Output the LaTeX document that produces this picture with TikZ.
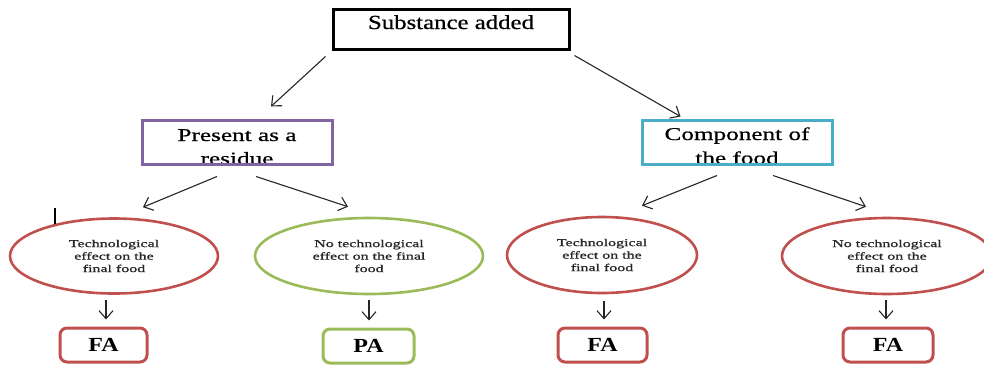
\documentclass[tikz,border=0pt]{standalone}
\usepackage{fontspec}
\setmainfont{Liberation Serif}
\newfontfamily\ftopfont[FakeStretch=1.24,FakeBold=0.7]{Liberation Serif}
\newfontfamily\fmidfont[FakeStretch=1.4,FakeBold=0.7]{Liberation Serif}
\newfontfamily\fellfont[FakeStretch=1.52,FakeBold=1.1]{Liberation Serif}
\newfontfamily\flabfont[FakeStretch=1.2]{Liberation Serif}
\usetikzlibrary{shapes.geometric,arrows.meta}
\definecolor{cred}{HTML}{C0504D}
\definecolor{cgreen}{HTML}{9BBB59}
\definecolor{cpurple}{HTML}{8064A2}
\definecolor{cblue}{HTML}{4BACC6}
\tikzset{
  topbox/.style={draw=black,line width=3pt,minimum width=236pt,minimum height=40pt,inner sep=0pt},
  midbox/.style={line width=3pt,minimum width=190pt,minimum height=44pt,inner sep=0pt},
  ellbox/.style={ellipse,line width=2.6pt,inner sep=0pt,align=center,
    font=\fellfont\fontsize{10.5}{12.5}\selectfont,text=black!85},
  resbox/.style={rounded corners=7pt,line width=3pt,minimum height=34pt,inner sep=0pt,
    font=\flabfont\bfseries\fontsize{20}{22}\selectfont},
  arr/.style={-{Straight Barb[length=8pt,width=14pt]},line width=1.1pt,black!85},
  bigtext/.style={anchor=base,inner sep=0pt,font=\fmidfont\fontsize{18}{22}\selectfont}
}
\begin{document}
\begin{tikzpicture}[x=1pt,y=-1pt]
\useasboundingbox (0,0) rectangle (984,364);
% top
\node[topbox] (top) at (451,29) {};
\node[anchor=base,inner sep=0pt,font=\ftopfont\fontsize{20}{24}\selectfont] (toptxt) at (451,29) {Substance added};
% middle boxes
\node[midbox,draw=cpurple] (pres) at (237,142) {};
\node[midbox,draw=cblue] (comp) at (737,142) {};
\begin{scope}
  \clip (143.5,121.5) rectangle (330.5,162.5);
  \node[bigtext] (pres1) at (237,141) {Present as a};
  \node[bigtext] (pres2) at (237,164.5) {residue};
\end{scope}
\begin{scope}
  \clip (643.5,121.5) rectangle (830.5,162.5);
  \node[bigtext] (comp1) at (737,140) {Component of};
  \node[bigtext] (comp2) at (737,164) {the food};
\end{scope}
% ellipses
\node[ellbox,draw=cred,minimum width=208pt,minimum height=75pt] (e1) at (114,256) {Technological\\effect on the\\final food};
\node[ellbox,draw=cgreen,minimum width=228pt,minimum height=76pt] (e2) at (369,256) {No technological\\effect on the final\\food};
\node[ellbox,draw=cred,minimum width=190pt,minimum height=76pt] (e3) at (602,255) {Technological\\effect on the\\final food};
\node[ellbox,draw=cred,minimum width=210pt,minimum height=76pt] (e4) at (887,256) {No technological\\effect on the\\final food};
% result boxes
\node[resbox,draw=cred,minimum width=87pt] (r1) at (103.5,345) {FA};
\node[resbox,draw=cgreen,minimum width=91pt] (r2) at (368.5,346) {PA};
\node[resbox,draw=cred,minimum width=89pt] (r3) at (602.5,345) {FA};
\node[resbox,draw=cred,minimum width=90pt] (r4) at (888,345) {FA};
% arrows
\draw[arr] ([shift={(-6,6)}]top.south west) -- ([shift={(34,-12)}]pres.north);
\draw[arr] ([shift={(4,5)}]top.south east) -- ([shift={(40,-2)}]comp.north west);
\draw[arr] ([shift={(-20,11)}]pres.south) -- ([shift={(29,-10)}]e1.north);
\draw[arr] ([shift={(19,11)}]pres.south) -- ([shift={(-21,-10)}]e2.north);
\draw[arr] ([shift={(-20,10)}]comp.south) -- ([shift={(40,-10)}]e3.north);
\draw[arr] ([shift={(36,10)}]comp.south) -- ([shift={(-21,-10)}]e4.north);
\draw[arr] ([shift={(-8,5)}]e1.south) -- ([shift={(2.5,-7)}]r1.north);
\draw[arr] ([shift={(0,5)}]e2.south) -- ([shift={(0.5,-7)}]r2.north);
\draw[arr] ([shift={(2,7)}]e3.south) -- ([shift={(1.5,-7)}]r3.north);
\draw[arr] ([shift={(-1,5)}]e4.south) -- ([shift={(-2,-7)}]r4.north);
% stray mark
\coordinate (m1) at (55,208);
\coordinate (m2) at (55,224);
\draw[line width=1.3pt] (m1) -- (m2);
\end{tikzpicture}
\end{document}
